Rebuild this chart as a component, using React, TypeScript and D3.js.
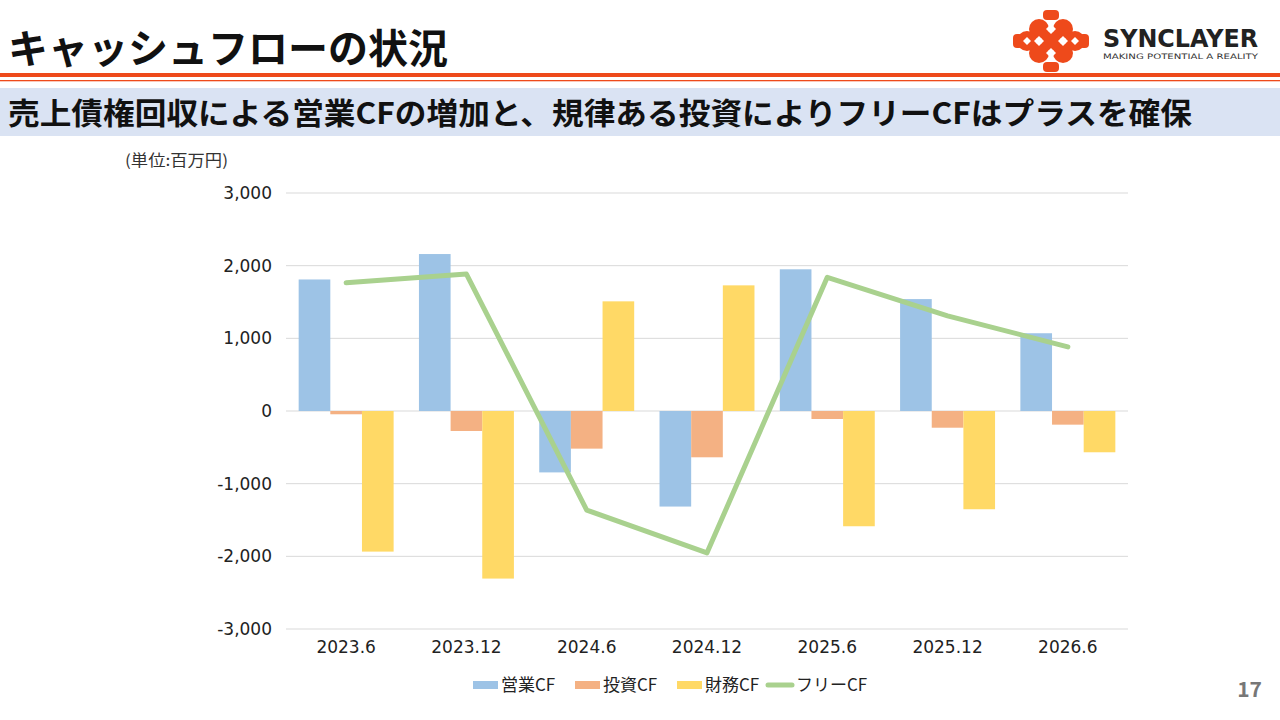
import React from "react";
import * as d3 from "d3";

const categories = ["2023.6", "2023.12", "2024.6", "2024.12", "2025.6", "2025.12", "2026.6"];
const operatingCF = [1810, 2160, -845, -1315, 1950, 1540, 1070];
const investingCF = [-45, -275, -518, -637, -110, -230, -188];
const financingCF = [-1935, -2306, 1509, 1729, -1586, -1352, -568];
const freeCF = [1765, 1885, -1363, -1952, 1840, 1310, 882];
const yTicks = [-3000, -2000, -1000, 0, 1000, 2000, 3000];
const seriesNames = ["営業CF", "投資CF", "財務CF", "フリーCF"];
const colors = ["#9DC3E6", "#F4B183", "#FFD966", "#A9D18E"];

const W = 1280;
const H = 720;
const plot = { left: 286, right: 1128, top: 193, bottom: 629 };
const JP = "'Noto Sans CJK JP', 'Noto Sans', sans-serif";
const NUM = "'DejaVu Sans', sans-serif";
const ORANGE = "#EE4A1B";

const fmt = (t: number) => d3.format(",")(t).replace("\u2212", "-");

function Logo() {
  const cx = 1051;
  const cy = 41;
  const circles: [number, number][] = [
    [-12, -12], [12, -12], [-12, 12], [12, 12], [0, 0], [-24, 0], [24, 0],
  ];
  const holes: [number, number][] = [[-12, 0], [12, 0], [0, -12], [0, 12]];
  return (
    <g>
      <g fill={ORANGE}>
        {circles.map(([x, y], i) => (
          <circle key={i} cx={cx + x} cy={cy + y} r={10} />
        ))}
        <rect x={cx - 8} y={cy - 31} width={16} height={10} rx={4} />
        <rect x={cx - 8} y={cy + 21} width={16} height={10} rx={4} />
        <rect x={cx - 38} y={cy - 7} width={10} height={14} rx={4} />
        <rect x={cx + 28} y={cy - 7} width={10} height={14} rx={4} />
      </g>
      <g fill="#fff">
        {holes.map(([x, y], i) => (
          <path
            key={i}
            d={`M${cx + x},${cy + y - 5}L${cx + x + 5},${cy + y}L${cx + x},${cy + y + 5}L${cx + x - 5},${cy + y}Z`}
          />
        ))}
        <path d={`M${cx - 24},${cy - 4}L${cx - 20},${cy}L${cx - 24},${cy + 4}L${cx - 28},${cy}Z`} />
        <path d={`M${cx + 24},${cy - 4}L${cx + 28},${cy}L${cx + 24},${cy + 4}L${cx + 20},${cy}Z`} />
      </g>
      <text x={1103} y={47} fontFamily="'DejaVu Sans', sans-serif" fontWeight={700} fontSize={25} fill="#222" textLength={155} lengthAdjust="spacingAndGlyphs">
        SYNCLAYER
      </text>
      <text x={1103} y={59} fontFamily="'DejaVu Sans', sans-serif" fontSize={7.5} fill="#333" textLength={155} lengthAdjust="spacingAndGlyphs">
        MAKING POTENTIAL A REALITY
      </text>
    </g>
  );
}

export default function App() {
  const x0 = d3.scaleBand<string>().domain(categories).range([plot.left, plot.right]).paddingInner(0).paddingOuter(0);
  const x1 = d3.scaleBand<number>().domain([0, 1, 2]).range([0, x0.bandwidth()]).paddingOuter(0.4).paddingInner(0);
  const y = d3.scaleLinear().domain([-3000, 3000]).range([plot.bottom, plot.top]);
  const barSeries = [operatingCF, investingCF, financingCF];
  const line = d3
    .line<number>()
    .x((_, i) => (x0(categories[i]) as number) + x0.bandwidth() / 2)
    .y((d) => y(d));

  const legendX = [473, 575, 677, 768];

  return (
    <svg width={W} height={H} style={{ position: "absolute", left: 0, top: 0, background: "#fff" }}>
      <rect width={W} height={H} fill="#fff" />
      {/* header */}
      <text x={8} y={63} fontFamily={JP} fontWeight={700} fontSize={40} fill="#111">
        キャッシュフローの状況
      </text>
      <Logo />
      <rect x={0} y={73} width={W} height={4} fill={ORANGE} />
      <rect x={0} y={80} width={W} height={1.3} fill={ORANGE} />
      <rect x={0} y={88} width={W} height={48} fill="#DAE3F3" />
      <text x={8} y={124} fontFamily={JP} fontWeight={700} fontSize={30} fill="#111" textLength={1184} lengthAdjust="spacingAndGlyphs">
        売上債権回収による営業CFの増加と、規律ある投資によりフリーCFはプラスを確保
      </text>
      <text x={125} y={166} fontFamily={JP} fontSize={15.5} fill="#333" textLength={103} lengthAdjust="spacingAndGlyphs">
        (単位:百万円)
      </text>

      {/* grid */}
      {yTicks.map((t) => (
        <g key={t}>
          <line x1={plot.left} x2={plot.right} y1={y(t)} y2={y(t)} stroke="#D9D9D9" strokeWidth={1} />
          <text x={272} y={y(t)} dy="0.36em" textAnchor="end" fontFamily={NUM} fontSize={17} fill="#222">
            {fmt(t)}
          </text>
        </g>
      ))}

      {/* bars */}
      {barSeries.map((vals, s) => (
        <g key={s} fill={colors[s]}>
          {vals.map((v, i) => {
            const bx = (x0(categories[i]) as number) + (x1(s) as number);
            return (
              <rect key={i} x={bx} y={Math.min(y(v), y(0))} width={x1.bandwidth()} height={Math.abs(y(v) - y(0))} />
            );
          })}
        </g>
      ))}

      {/* free CF line */}
      <path d={line(freeCF) || ""} fill="none" stroke={colors[3]} strokeWidth={5} strokeLinecap="round" strokeLinejoin="round" />

      {/* x labels */}
      {categories.map((c) => (
        <text key={c} x={(x0(c) as number) + x0.bandwidth() / 2} y={647} dy="0.36em" textAnchor="middle" fontFamily={NUM} fontSize={17} fill="#222">
          {c}
        </text>
      ))}

      {/* legend */}
      {seriesNames.map((n, i) => (
        <g key={n}>
          {i < 3 ? (
            <rect x={legendX[i]} y={681} width={25} height={8} fill={colors[i]} />
          ) : (
            <line x1={legendX[i]} x2={legendX[i] + 24} y1={685} y2={685} stroke={colors[i]} strokeWidth={5} strokeLinecap="round" />
          )}
          <text x={legendX[i] + 28} y={685} dy="0.36em" fontFamily={JP} fontSize={17} fill="#222">
            {n}
          </text>
        </g>
      ))}

      <text x={1262} y={697} textAnchor="end" fontFamily={JP} fontWeight={700} fontSize={21} fill="#777">
        17
      </text>
    </svg>
  );
}
